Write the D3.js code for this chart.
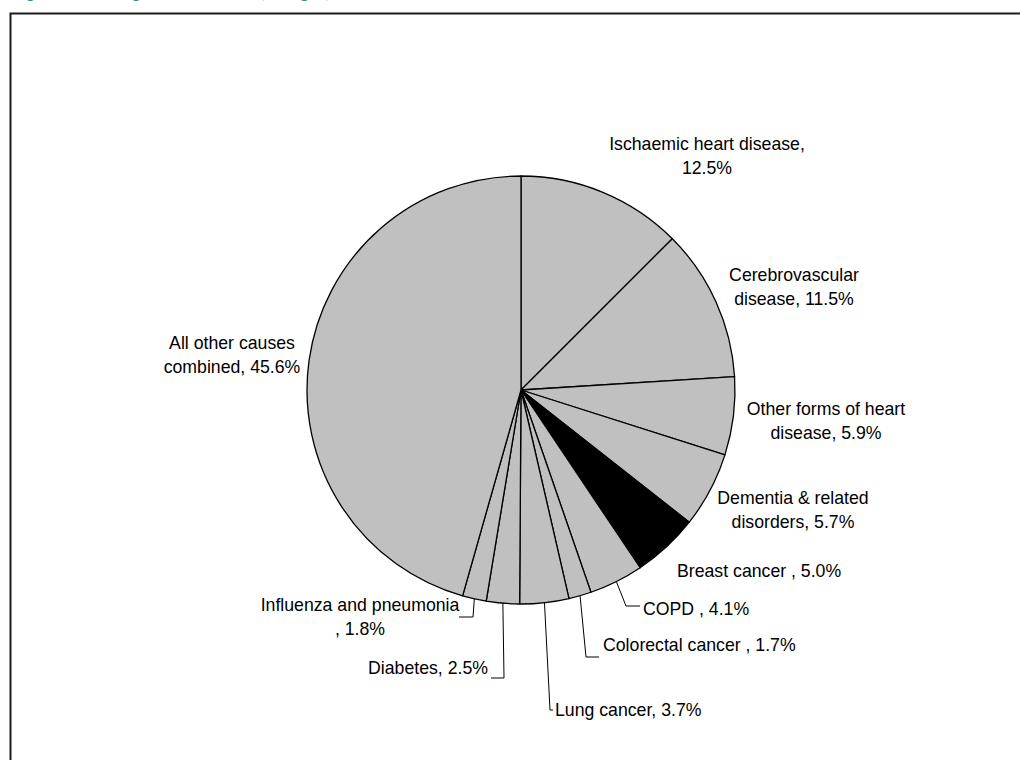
<!DOCTYPE html>
<html>
<head>
<meta charset="utf-8">
<script src="https://cdn.jsdelivr.net/npm/d3@7"></script>
<style>
  html, body { margin: 0; padding: 0; background: #fff; }
  svg { display: block; }
  .lbl { font-family: "Liberation Sans", Arial, sans-serif; font-size: 17.7px; fill: #000; }
</style>
</head>
<body>
<svg id="chart" width="1020" height="760"></svg>
<script>
"use strict";

// slice data, clockwise from 12 o'clock
const causes = [
    "Ischaemic heart disease", "Cerebrovascular disease", "Other forms of heart disease",
    "Dementia & related disorders", "Breast cancer", "COPD", "Colorectal cancer",
    "Lung cancer", "Diabetes", "Influenza and pneumonia", "All other causes combined"
];
const shares = [12.5, 11.5, 5.9, 5.7, 5.0, 4.1, 1.7, 3.7, 2.5, 1.8, 45.6];
const highlighted = ["Breast cancer"];

// label text as it is broken in the picture
const labelLines = [
    ["Ischaemic heart disease,", "12.5%"],
    ["Cerebrovascular", "disease, 11.5%"],
    ["Other forms of heart", "disease, 5.9%"],
    ["Dementia & related", "disorders, 5.7%"],
    ["Breast cancer , 5.0%"],
    ["COPD , 4.1%"],
    ["Colorectal cancer , 1.7%"],
    ["Lung cancer, 3.7%"],
    ["Diabetes, 2.5%"],
    ["Influenza and pneumonia", ", 1.8%"],
    ["All other causes", "combined, 45.6%"]
];

// label placement (layout only): text anchor point and optional leader elbow
const labelLayout = [
    {x: 707, y: 150, anchor: "middle"},
    {x: 794, y: 281, anchor: "middle"},
    {x: 826, y: 415, anchor: "middle"},
    {x: 793, y: 504, anchor: "middle"},
    {x: 677, y: 577, anchor: "start"},
    {x: 643, y: 615, anchor: "start", leader: [626, 606, 640]},
    {x: 603, y: 651, anchor: "start", leader: [586, 657, 599]},
    {x: 555, y: 716, anchor: "start", leader: [550, 710, 553]},
    {x: 488, y: 674, anchor: "end",   leader: [504, 678, 491]},
    {x: 360, y: 611, anchor: "middle", leader: [473, 617, 459]},
    {x: 232, y: 349, anchor: "middle"}
];

const W = 1020, H = 760;
const cx = 521, cy = 390, r = 214;
const lineH = 24.2;

let svg = d3.select("#chart");

// title, almost entirely above the visible area
svg.append("text")
    .attr("x", 12)
    .attr("y", -2)
    .attr("font-family", "Lato, 'Open Sans', sans-serif")
    .attr("font-weight", "bold")
    .attr("font-size", 17)
    .attr("fill", "#4a7ebb")
    .text("Figure 1: Leading causes of death, all ages, 2010");

// frame
svg.append("rect")
    .attr("x", 10.5)
    .attr("y", 13.5)
    .attr("width", W + 40)
    .attr("height", H + 40)
    .attr("fill", "none")
    .attr("stroke", "#1a1a1a")
    .attr("stroke-width", 2);

let pie = d3.pie().sort(null).value((d) => d.value);
let slices = pie(causes.map((c, i) => ({name: c, value: shares[i], i: i})));

let arc = d3.arc().innerRadius(0).outerRadius(r);
let edge = d3.arc().innerRadius(r).outerRadius(r);

let g = svg.append("g").attr("transform", "translate(" + cx + "," + cy + ")");

g.selectAll("path.slice")
    .data(slices)
    .enter()
    .append("path")
    .attr("class", "slice")
    .attr("d", arc)
    .attr("fill", (d) => highlighted.includes(d.data.name) ? "#000" : "#c0c0c0")
    .attr("stroke", "#000")
    .attr("stroke-width", 1.3)
    .attr("stroke-linejoin", "round");

// leader lines
svg.append("g")
    .selectAll("path")
    .data(slices.filter((d) => labelLayout[d.data.i].leader))
    .enter()
    .append("path")
    .attr("fill", "none")
    .attr("stroke", "#000")
    .attr("stroke-width", 1)
    .attr("d", (d) => {
        let p = edge.centroid(d);
        let L = labelLayout[d.data.i].leader;
        return d3.line()([[cx + p[0], cy + p[1]], [L[0], L[1]], [L[2], L[1]]]);
    });

// labels
let lbl = svg.append("g")
    .selectAll("text")
    .data(slices)
    .enter()
    .append("text")
    .attr("class", "lbl")
    .attr("text-anchor", (d) => labelLayout[d.data.i].anchor)
    .attr("x", (d) => labelLayout[d.data.i].x)
    .attr("y", (d) => labelLayout[d.data.i].y);

lbl.selectAll("tspan")
    .data((d) => labelLines[d.data.i].map((t) => ({t: t, x: labelLayout[d.data.i].x})))
    .enter()
    .append("tspan")
    .attr("x", (d) => d.x)
    .attr("dy", (d, j) => j === 0 ? 0 : lineH)
    .text((d) => d.t);
</script>
</body>
</html>
